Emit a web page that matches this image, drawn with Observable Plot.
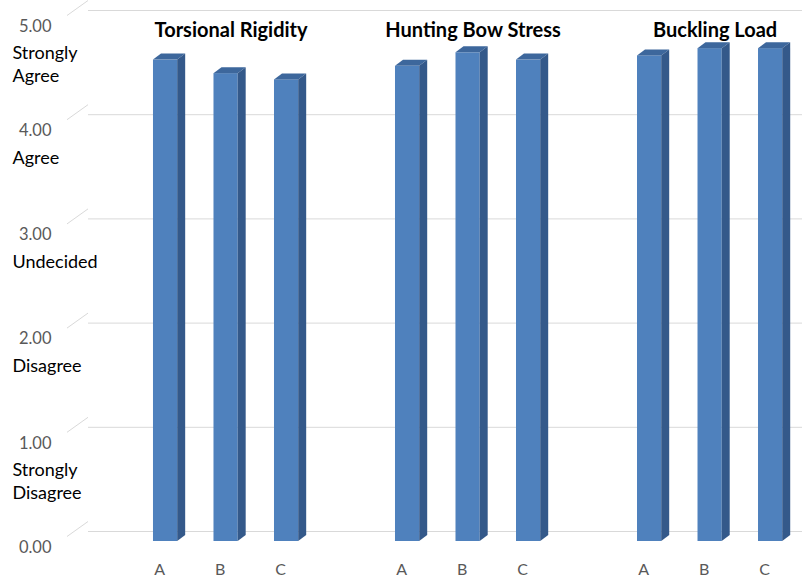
<!DOCTYPE html>
<html><head><meta charset="utf-8">
<script src="https://cdn.jsdelivr.net/npm/d3@7"></script>
<script src="https://cdn.jsdelivr.net/npm/@observablehq/plot@0.6"></script>
<style>html,body{margin:0;padding:0;background:#fff}</style>
</head><body><div id="chart"></div>
<script>
// ---- data ----
const groups = ["Torsional Rigidity", "Hunting Bow Stress", "Buckling Load"];
const designs = ["A", "B", "C"];
const torsionalRigidity = [4.62, 4.49, 4.43];
const huntingBowStress = [4.56, 4.69, 4.62];
const bucklingLoad = [4.66, 4.73, 4.73];
const yTicks = [0, 1, 2, 3, 4, 5];
const likertLevels = [1, 2, 3, 4, 5];
const likertLabels = ["Strongly\nDisagree", "Disagree", "Undecided", "Agree", "Strongly\nAgree"];

// layout: each group occupies 4 slots (3 bars + a gap slot)
const seriesByGroup = [torsionalRigidity, huntingBowStress, bucklingLoad];
const SLOTS_PER_GROUP = designs.length + 1;
const data = groups.flatMap((g, i) => designs.map((d, j) => ({
  group: g, design: d, value: seriesByGroup[i][j], slot: i * SLOTS_PER_GROUP + j
})));
const titles = groups.map((g, i) => ({group: g, slot: i * SLOTS_PER_GROUP + (designs.length - 1) / 2}));
const likert = likertLevels.map((v, i) => ({value: v, label: likertLabels[i]}));

const FONT = "Lato, 'Open Sans', sans-serif";
const HALF = 0.2;            // half bar width in slot units
const DEPTH_X = 8, DEPTH_Y = -6;
const ML = 88;

const plot = Plot.plot({
  width: 802,
  height: 578,
  marginTop: 20,
  marginBottom: 37,
  marginLeft: ML,
  marginRight: 0,
  style: {fontFamily: FONT, background: "#fff", overflow: "visible"},
  y: {domain: [0, 5], axis: null},
  x: {type: "linear", domain: [-1.274, 10.527], axis: null},
  marks: [
    Plot.ruleY(yTicks, {y: d => d, dy: -10, stroke: "#d9d9d9", strokeWidth: 1}),
    Plot.text(yTicks, {y: d => d, text: d => d.toFixed(2), frameAnchor: "left", textAnchor: "end",
      lineAnchor: "middle", dx: -37, dy: 6, fill: "#595959", fontSize: 16.5}),
    Plot.text(likert, {y: "value", text: "label", frameAnchor: "left", textAnchor: "start",
      lineAnchor: "top", lineHeight: 1.25, dx: -76, dy: 23, fill: "#000", fontSize: 18}),
    Plot.rectY(data, {x1: d => d.slot - HALF, x2: d => d.slot + HALF, y1: 0, y2: "value", fill: "#4f81bd"}),
    Plot.text(data, {x: "slot", text: "design", frameAnchor: "bottom", lineAnchor: "middle", dx: -6, dy: 28,
      fontSize: 16, fill: "#595959"}),
    Plot.text(titles, {x: "slot", text: "group", frameAnchor: "top", lineAnchor: "middle", dy: 10, dx: 5,
      fontSize: 20, fontWeight: "bold", fill: "#000"})
  ]
});

document.getElementById("chart").appendChild(plot);

// ---- 3D depth: perspective diagonals on the gridlines, side and top faces on bars ----
const NS = "http://www.w3.org/2000/svg";
const ys = plot.scale("y");
const ruleG = plot.querySelector('g[aria-label="rule"]');
if (ruleG) {
  yTicks.forEach(v => {
    const py = ys.apply(v);
    const ln = document.createElementNS(NS, "line");
    ln.setAttribute("x1", ML - 21);
    ln.setAttribute("y1", py + 5);
    ln.setAttribute("x2", ML);
    ln.setAttribute("y2", py - 10);
    ln.setAttribute("stroke", "#d9d9d9");
    ln.setAttribute("stroke-width", 1);
    ruleG.appendChild(ln);
  });
}
plot.querySelectorAll('g[aria-label="rect"] rect').forEach(r => {
  const x = +r.getAttribute("x"), y = +r.getAttribute("y");
  const w = +r.getAttribute("width"), h = +r.getAttribute("height");
  const parent = r.parentNode;
  const mk = (pts, fill) => {
    const p = document.createElementNS(NS, "polygon");
    p.setAttribute("points", pts.map(q => q.join(",")).join(" "));
    p.setAttribute("fill", fill);
    parent.insertBefore(p, r.nextSibling);
  };
  mk([[x + w, y], [x + w + DEPTH_X, y + DEPTH_Y], [x + w + DEPTH_X, y + h + DEPTH_Y], [x + w, y + h]], "#34598a");
  mk([[x, y], [x + w, y], [x + w + DEPTH_X, y + DEPTH_Y], [x + DEPTH_X, y + DEPTH_Y]], "#3d679c");
});
</script>
</body></html>
